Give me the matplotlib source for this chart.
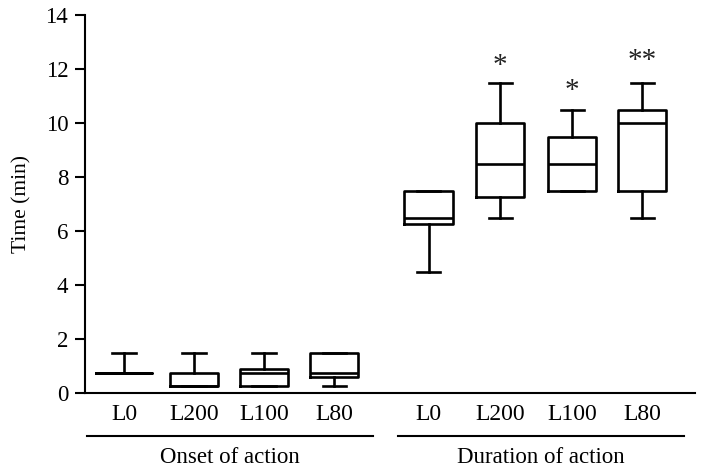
import numpy as np
import matplotlib.pyplot as plt
import matplotlib.transforms as mtransforms

plt.rcParams['font.family'] = ['Liberation Serif', 'DejaVu Serif']

# box statistics (min, q1, median, q3, max)
etiquetas = ['L0', 'L200', 'L100', 'L80', 'L0', 'L200', 'L100', 'L80']
minimos = [0.75, 0.25, 0.25, 0.25, 4.5, 6.5, 7.5, 6.5]
q1 = [0.75, 0.25, 0.25, 0.6, 6.25, 7.25, 7.5, 7.5]
medianas = [0.75, 0.25, 0.75, 0.75, 6.5, 8.5, 8.5, 10.0]
q3 = [0.75, 0.75, 0.9, 1.5, 7.5, 10.0, 9.5, 10.5]
maximos = [1.5, 1.5, 1.5, 1.5, 7.5, 11.5, 10.5, 11.5]
posiciones = [1, 2, 3, 4, 5.35, 6.37, 7.4, 8.4]
grupos = ['Onset of action', 'Duration of action']
marcas = {6.37: ('*', 12.1), 7.4: ('*', 11.2), 8.4: ('**', 12.3)}

fig = plt.figure(figsize=(7.08, 4.69), dpi=100)
ax = fig.add_axes([0.12, 0.162, 0.862, 0.806])

stats = []
for i in range(len(etiquetas)):
    stats.append({'whislo': minimos[i], 'q1': q1[i], 'med': medianas[i],
                  'q3': q3[i], 'whishi': maximos[i], 'fliers': []})

anchos = [0.8] + [0.69] * 7
lw = 1.9
ax.bxp(stats, positions=posiciones, widths=anchos, showfliers=False,
       boxprops=dict(color='black', linewidth=lw),
       medianprops=dict(color='black', linewidth=lw),
       whiskerprops=dict(color='black', linewidth=lw),
       capprops=dict(color='black', linewidth=lw),
       capwidths=0.33, manage_ticks=False)

# asterisks
for x, (txt, y) in marcas.items():
    ax.text(x, y, txt, ha='center', va='center', fontsize=21, color='#222222')

ax.set_xlim(0.443, 9.157)
ax.set_ylim(0, 14)
ax.set_yticks(np.arange(0, 15, 2))
ax.set_xticks(posiciones)
ax.set_xticklabels(etiquetas)
ax.tick_params(axis='x', length=0, pad=8, labelsize=17)
ax.tick_params(axis='y', length=7, width=1.5, pad=5, labelsize=16.5)
ax.set_ylabel('Time (min)', fontsize=15.5, labelpad=10)

for s in ['top', 'right']:
    ax.spines[s].set_visible(False)
ax.spines['left'].set_linewidth(1.5)
ax.spines['bottom'].set_linewidth(1.5)

# group underlines and names
trans = mtransforms.blended_transform_factory(ax.transData, ax.transAxes)
lineas = [(0.47, 4.56), (4.91, 9.0)]
for (x0, x1), nombre in zip(lineas, grupos):
    ax.plot([x0, x1], [-0.114, -0.114], color='black', linewidth=1.5,
            transform=trans, clip_on=False)
    ax.text((x0 + x1) / 2, -0.17, nombre, ha='center', va='center',
            fontsize=16.5, transform=trans)

fig.savefig('out.png', dpi=100)
